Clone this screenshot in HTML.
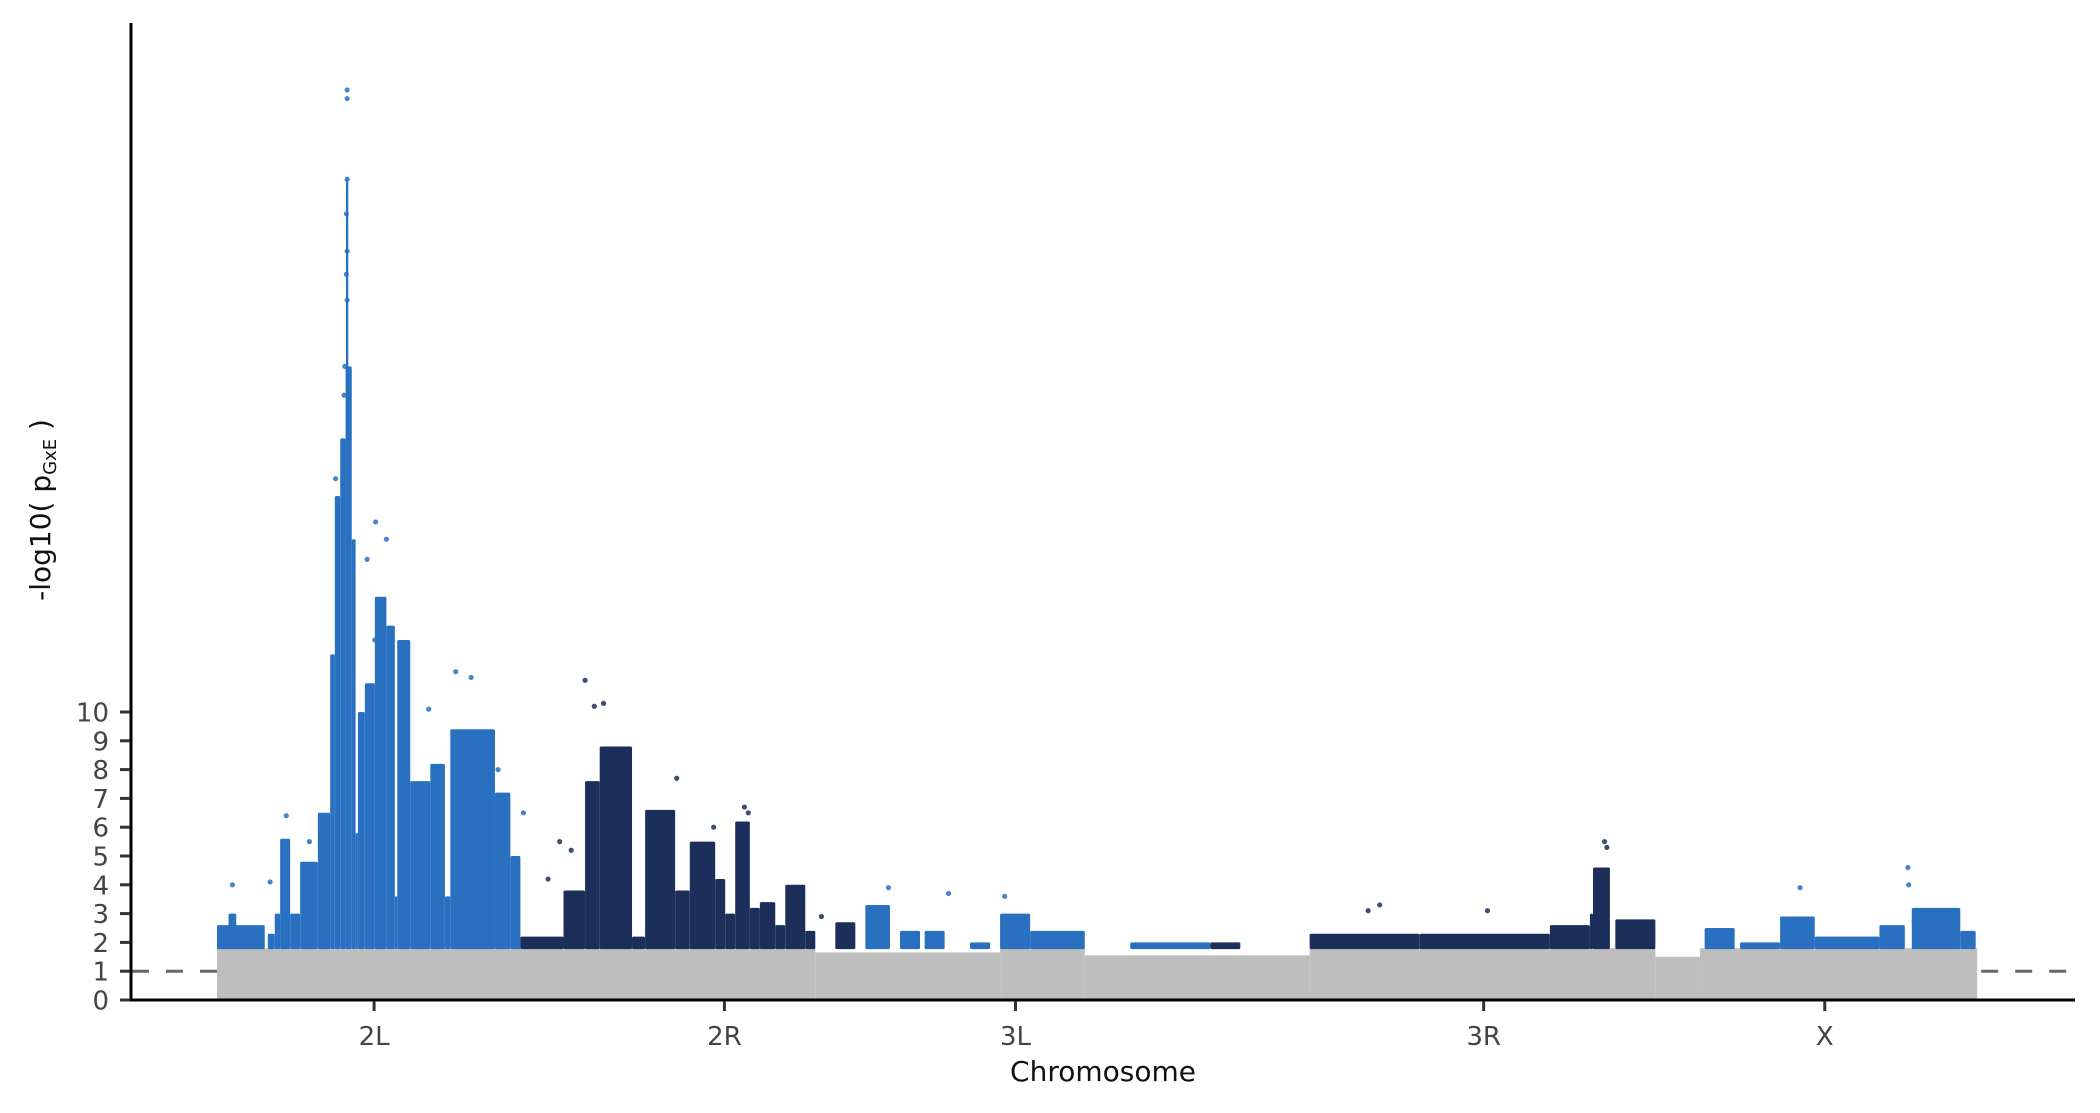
<!DOCTYPE html>
<html>
<head>
<meta charset="utf-8">
<style>
  html, body { margin: 0; padding: 0; background: #ffffff; }
  svg { display: block; }
  text { font-family: "DejaVu Sans", "Liberation Sans", sans-serif; }
</style>
</head>
<body>
<svg id="chart" width="2100" height="1113" viewBox="0 0 2100 1113" xmlns="http://www.w3.org/2000/svg">
  <g id="gray-layer"></g>
  <g id="seg-layer"></g>
  <g id="pt-layer"></g>
  <g id="axes"></g>
  <text x="1103" y="1081" font-size="28" fill="#111" text-anchor="middle">Chromosome</text>
  <text transform="translate(50,510) rotate(-90)" font-size="28" fill="#111" text-anchor="middle">-log10( p<tspan font-size="18" dy="6">GxE</tspan><tspan dy="-6"> )</tspan></text>
</svg>
<script>
// ---- data (genome position in Mb along concatenated genome, -log10 p values) ----
const yTicks = [0,1,2,3,4,5,6,7,8,9,10];
const chromLabels = ["2L","2R","3L","3R","X"];
const chromCenters = [20.4, 65.9, 103.7, 164.5, 208.8];
const threshold = 1;

const grayStart = [0, 77.7, 101.7, 112.7, 141.9, 186.8, 192.6];
const grayEnd   = [77.7, 101.7, 112.7, 141.9, 186.8, 192.6, 228.6];
const grayTop   = [1.8, 1.65, 1.8, 1.55, 1.8, 1.5, 1.8];

const segStart = [0,1.5,6.6,7.5,8.2,9.5,10.8,13.1,14.7,15.3,16.0,16.7,17.5,18.0,18.3,19.2,20.5,22.0,23.1,23.4,25.1,27.7,29.6,30.3,36.1,38.1,
  39.4,45,47.8,49.7,53.9,55.6,59.5,61.4,64.7,66.0,67.3,69.2,70.5,72.5,73.8,76.4,80.3,
  84.2,88.7,91.9,97.8,101.7,105.6,118.6,129.0,141.9,156.2,173.1,178.3,178.7,181.6,
  193.2,197.8,203.0,207.5,215.9,220.1,226.4,16.75];
const segEnd = [6.2,2.5,7.5,8.2,9.5,10.8,13.1,14.7,15.3,16.0,16.7,17.5,18.0,18.3,19.2,20.5,22.0,23.1,23.4,25.1,27.7,29.6,30.3,36.1,38.1,39.4,
  45,47.8,49.7,53.9,55.6,59.5,61.4,64.7,66.0,67.3,69.2,70.5,72.5,73.8,76.4,77.7,82.9,
  87.4,91.3,94.5,100.4,105.6,112.7,129.0,132.9,156.2,173.1,178.3,178.7,180.9,186.8,
  197.1,203.0,207.5,215.9,219.2,226.4,228.4,17.05];
const segTop = [2.6,3.0,2.3,3.0,5.6,3.0,4.8,6.5,12,17.5,19.5,22,16,5.8,10,11,14,13,3.6,12.5,7.6,8.2,3.6,9.4,7.2,5.0,
  2.2,3.8,7.6,8.8,2.2,6.6,3.8,5.5,4.2,3.0,6.2,3.2,3.4,2.6,4.0,2.4,2.7,
  3.3,2.4,2.4,2.0,3.0,2.4,2.0,2.0,2.3,2.3,2.6,3.0,4.6,2.8,
  2.5,2.0,2.9,2.2,2.6,3.2,2.4,28.5];
const segColor = [0,0,0,0,0,0,0,0,0,0,0,0,0,0,0,0,0,0,0,0,0,0,0,0,0,0,
  1,1,1,1,1,1,1,1,1,1,1,1,1,1,1,1,1,
  0,0,0,0,0,0,0,1,1,1,1,1,1,1,
  0,0,0,0,0,0,0,0];

const ptPos = [16.9,16.9,16.9,16.8,16.9,16.8,16.9,16.6,16.5,15.4,19.5,20.6,22.0,20.5,
  2.0,6.9,9.0,12.0,24.6,31.0,33.0,27.5,36.5,39.8,
  47.8,49.0,50.2,44.5,46.0,43.0,59.7,64.5,68.5,69.0,78.5,
  87.2,95.0,102.3,149.5,151.0,165.0,180.2,180.5,205.6,219.6,219.7];
const ptVal = [31.6,31.3,28.5,27.3,26.0,25.2,24.3,22.0,21.0,18.1,15.3,16.6,16.0,12.5,
  4.0,4.1,6.4,5.5,10.5,11.4,11.2,10.1,8.0,6.5,
  11.1,10.2,10.3,5.5,5.2,4.2,7.7,6.0,6.7,6.5,2.9,
  3.9,3.7,3.6,3.1,3.3,3.1,5.5,5.3,3.9,4.6,4.0];
const ptColor = [0,0,0,0,0,0,0,0,0,0,0,0,0,0,
  0,0,0,0,0,0,0,0,0,0,
  1,1,1,1,1,1,1,1,1,1,1,
  0,0,0,1,1,1,1,1,0,0,0];

// ---- scales ----
const X0 = 217, PXPERMB = 7.7;
const Y0 = 1000, PXPERUNIT = 28.8;
const xs = p => X0 + p * PXPERMB;
const ys = v => Y0 - v * PXPERUNIT;
const palette = ["#2a70c0", "#1b2f5a"];
const NS = "http://www.w3.org/2000/svg";
function mk(tag, attrs, parent) {
  const el = document.createElementNS(NS, tag);
  for (const k in attrs) el.setAttribute(k, attrs[k]);
  parent.appendChild(el);
  return el;
}

const grayLayer = document.getElementById('gray-layer');
for (let i = 0; i < grayStart.length; i++) {
  const r = mk('rect', {x: xs(grayStart[i]), y: ys(grayTop[i]), width: xs(grayEnd[i]) - xs(grayStart[i]), height: Y0 - ys(grayTop[i]), fill: '#bebebe'}, grayLayer);
  
  
}

const segLayer = document.getElementById('seg-layer');
for (let i = 0; i < segStart.length; i++) {
  const base = 1.8;
  const r = mk('rect', {x: xs(segStart[i]), y: ys(segTop[i]), width: Math.max(1, xs(segEnd[i]) - xs(segStart[i])), height: ys(base) - ys(segTop[i]) + 1, fill: palette[segColor[i]], rx: 1.5}, segLayer);
  
  
}

const ptLayer = document.getElementById('pt-layer');
for (let i = 0; i < ptPos.length; i++) {
  const c = mk('circle', {cx: xs(ptPos[i]), cy: ys(ptVal[i]), r: 2.6, fill: palette[ptColor[i]], 'fill-opacity': 0.85}, ptLayer);
  
  
}

// ---- axes ----
const axes = document.getElementById('axes');
const thr1 = mk('line', {x1: 132, x2: xs(0), y1: ys(threshold), y2: ys(threshold), stroke: '#666', 'stroke-width': 3, 'stroke-dasharray': '17,17'}, axes);


const thr2 = mk('line', {x1: xs(228.6) + 4, x2: 2075, y1: ys(threshold), y2: ys(threshold), stroke: '#666', 'stroke-width': 3, 'stroke-dasharray': '17,17'}, axes);



const yAxis = mk('line', {x1: 131, x2: 131, y1: 23, y2: 1001.5, stroke: '#000', 'stroke-width': 3}, axes);


const xAxis = mk('line', {x1: 129.5, x2: 2075, y1: 1000, y2: 1000, stroke: '#000', 'stroke-width': 3}, axes);



for (let i = 0; i < yTicks.length; i++) {
  const y = ys(yTicks[i]);
  const t = mk('line', {x1: 120, x2: 130, y1: y, y2: y, stroke: '#333', 'stroke-width': 3}, axes);
  
  
  const l = mk('text', {x: 109, y: y + 9.5, 'font-size': 26, fill: '#444', 'text-anchor': 'end'}, axes);
  l.textContent = yTicks[i];
  
  
}
for (let i = 0; i < chromLabels.length; i++) {
  const x = xs(chromCenters[i]);
  const t = mk('line', {x1: x, x2: x, y1: 1001, y2: 1011, stroke: '#333', 'stroke-width': 3}, axes);
  
  
  const l = mk('text', {x: x, y: 1045, 'font-size': 26, fill: '#444', 'text-anchor': 'middle'}, axes);
  l.textContent = chromLabels[i];
  
  
}
</script>
</body>
</html>
